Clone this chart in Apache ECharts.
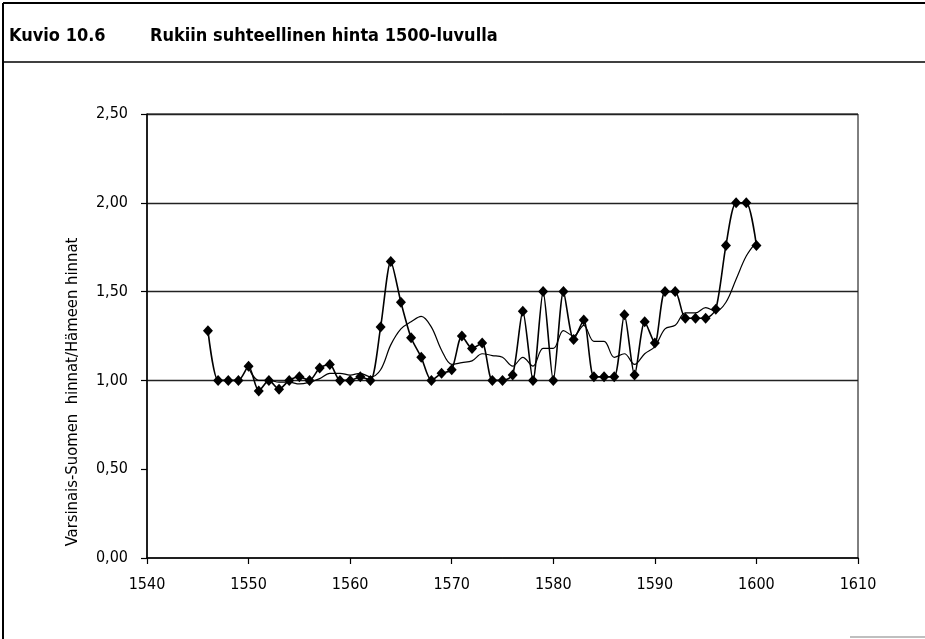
<!DOCTYPE html>
<html>
<head>
<meta charset="utf-8">
<script src="https://cdn.jsdelivr.net/npm/echarts@6/dist/echarts.min.js"></script>
<style>
html,body{margin:0;padding:0;background:#fff;}
#chart{width:925px;height:639px;}
</style>
</head>
<body>
<div id="chart"></div>
<script>
// ---- Data ----
const titleNumber = 'Kuvio 10.6';
const titleText = 'Rukiin suhteellinen hinta 1500-luvulla';
const yAxisTitle = 'Varsinais-Suomen  hinnat/Hämeen hinnat';

const years = [1546,1547,1548,1549,1550,1551,1552,1553,1554,1555,1556,1557,1558,1559,1560,
  1561,1562,1563,1564,1565,1566,1567,1568,1569,1570,1571,1572,1573,1574,1575,1576,1577,1578,
  1579,1580,1581,1582,1583,1584,1585,1586,1587,1588,1589,1590,1591,1592,1593,1594,1595,1596,
  1597,1598,1599,1600];
const ratio = [1.28,1.00,1.00,1.00,1.08,0.94,1.00,0.95,1.00,1.02,1.00,1.07,1.09,1.00,1.00,
  1.02,1.00,1.30,1.67,1.44,1.24,1.13,1.00,1.04,1.06,1.25,1.18,1.21,1.00,1.00,1.03,1.39,1.00,
  1.50,1.00,1.50,1.23,1.34,1.02,1.02,1.02,1.37,1.03,1.33,1.21,1.50,1.50,1.35,1.35,1.35,1.40,
  1.76,2.00,2.00,1.76];

const trendYears = [1550,1551,1552,1553,1554,1555,1556,1557,1558,1559,1560,1561,1562,1563,
  1564,1565,1566,1567,1568,1569,1570,1571,1572,1573,1574,1575,1576,1577,1578,1579,1580,1581,
  1582,1583,1584,1585,1586,1587,1588,1589,1590,1591,1592,1593,1594,1595,1596,1597,1598,1599,1600];
const trend = [1.07,1.00,1.00,0.99,0.99,0.98,0.99,1.01,1.04,1.04,1.03,1.04,1.02,1.06,
  1.20,1.29,1.33,1.36,1.30,1.17,1.09,1.10,1.11,1.15,1.14,1.13,1.08,1.13,1.08,1.18,1.18,1.28,
  1.25,1.31,1.22,1.22,1.13,1.15,1.09,1.15,1.19,1.29,1.31,1.38,1.38,1.41,1.39,1.44,1.57,1.70,1.78];

const xTicks = [1540,1550,1560,1570,1580,1590,1600,1610];
const yTicks = [0,0.5,1,1.5,2,2.5];

// ---- Chart ----
const FONT = '"Liberation Sans Narrow","DejaVu Sans Condensed","Open Sans",sans-serif';
const chart = echarts.init(document.getElementById('chart'), null, {renderer:'canvas'});

const option = {
  backgroundColor: '#fff',
  animation: false,
  grid: {
    left: 147, right: 67, top: 114, bottom: 81,
    show: true, borderColor: '#000', borderWidth: 1, backgroundColor: 'transparent'
  },
  xAxis: {
    type: 'value',
    min: xTicks[0], max: xTicks[xTicks.length-1], interval: 10,
    axisLine: {show: true, onZero: false, lineStyle: {color: '#000', width: 1.5}},
    axisTick: {show: true, inside: false, length: 6, lineStyle: {color: '#000', width: 1.2}},
    axisLabel: {color: '#000', fontSize: 16, fontFamily: FONT, margin: 19, formatter: v => String(v)},
    splitLine: {show: false}
  },
  yAxis: {
    type: 'value',
    min: yTicks[0], max: yTicks[yTicks.length-1], interval: 0.5,
    axisLine: {show: true, lineStyle: {color: '#000', width: 1.5}},
    axisTick: {show: true, inside: false, length: 6, lineStyle: {color: '#000', width: 1.2}},
    axisLabel: {
      color: '#000', fontSize: 16, fontFamily: FONT, margin: 19,
      formatter: v => v.toFixed(2).replace('.', ',')
    },
    splitLine: {
      show: true,
      lineStyle: {color: ['rgba(0,0,0,0)','rgba(0,0,0,0)','#222','#222','#222','#222'], width: 1.3}
    }
  },
  series: [
    {
      name: 'suhde',
      type: 'line',
      data: years.map((y, i) => [y, ratio[i]]),
      smooth: 0.25,
      symbol: 'diamond',
      symbolSize: [10, 11],
      itemStyle: {color: '#000'},
      lineStyle: {color: '#000', width: 1.6},
      z: 3
    },
    {
      name: 'liukuva keskiarvo',
      type: 'line',
      data: trendYears.map((y, i) => [y, trend[i]]),
      smooth: 0.35,
      showSymbol: false,
      symbol: 'none',
      lineStyle: {color: '#000', width: 1.2},
      z: 2
    }
  ],
  graphic: [
    {type: 'line', shape: {x1: 3, y1: 3, x2: 925, y2: 3}, style: {stroke: '#000', lineWidth: 2}},
    {type: 'line', shape: {x1: 3, y1: 3, x2: 3, y2: 639}, style: {stroke: '#000', lineWidth: 2}},
    {type: 'line', shape: {x1: 3, y1: 62, x2: 925, y2: 62}, style: {stroke: '#000', lineWidth: 1.5}},
    {type: 'line', shape: {x1: 850, y1: 637, x2: 925, y2: 637}, style: {stroke: '#aaa', lineWidth: 1.5}},
    {type: 'text', x: 9, y: 36, style: {text: titleNumber, font: 'bold 18px ' + FONT, fill: '#000', align: 'left', verticalAlign: 'middle'}},
    {type: 'text', x: 150, y: 36, style: {text: titleText, font: 'bold 18px ' + FONT, fill: '#000', align: 'left', verticalAlign: 'middle'}},
    {type: 'text', x: 73, y: 392, rotation: Math.PI/2, style: {text: yAxisTitle, font: '16.5px ' + FONT, fill: '#000', align: 'center', verticalAlign: 'middle'}}
  ]
};
chart.setOption(option);
</script>
</body>
</html>
